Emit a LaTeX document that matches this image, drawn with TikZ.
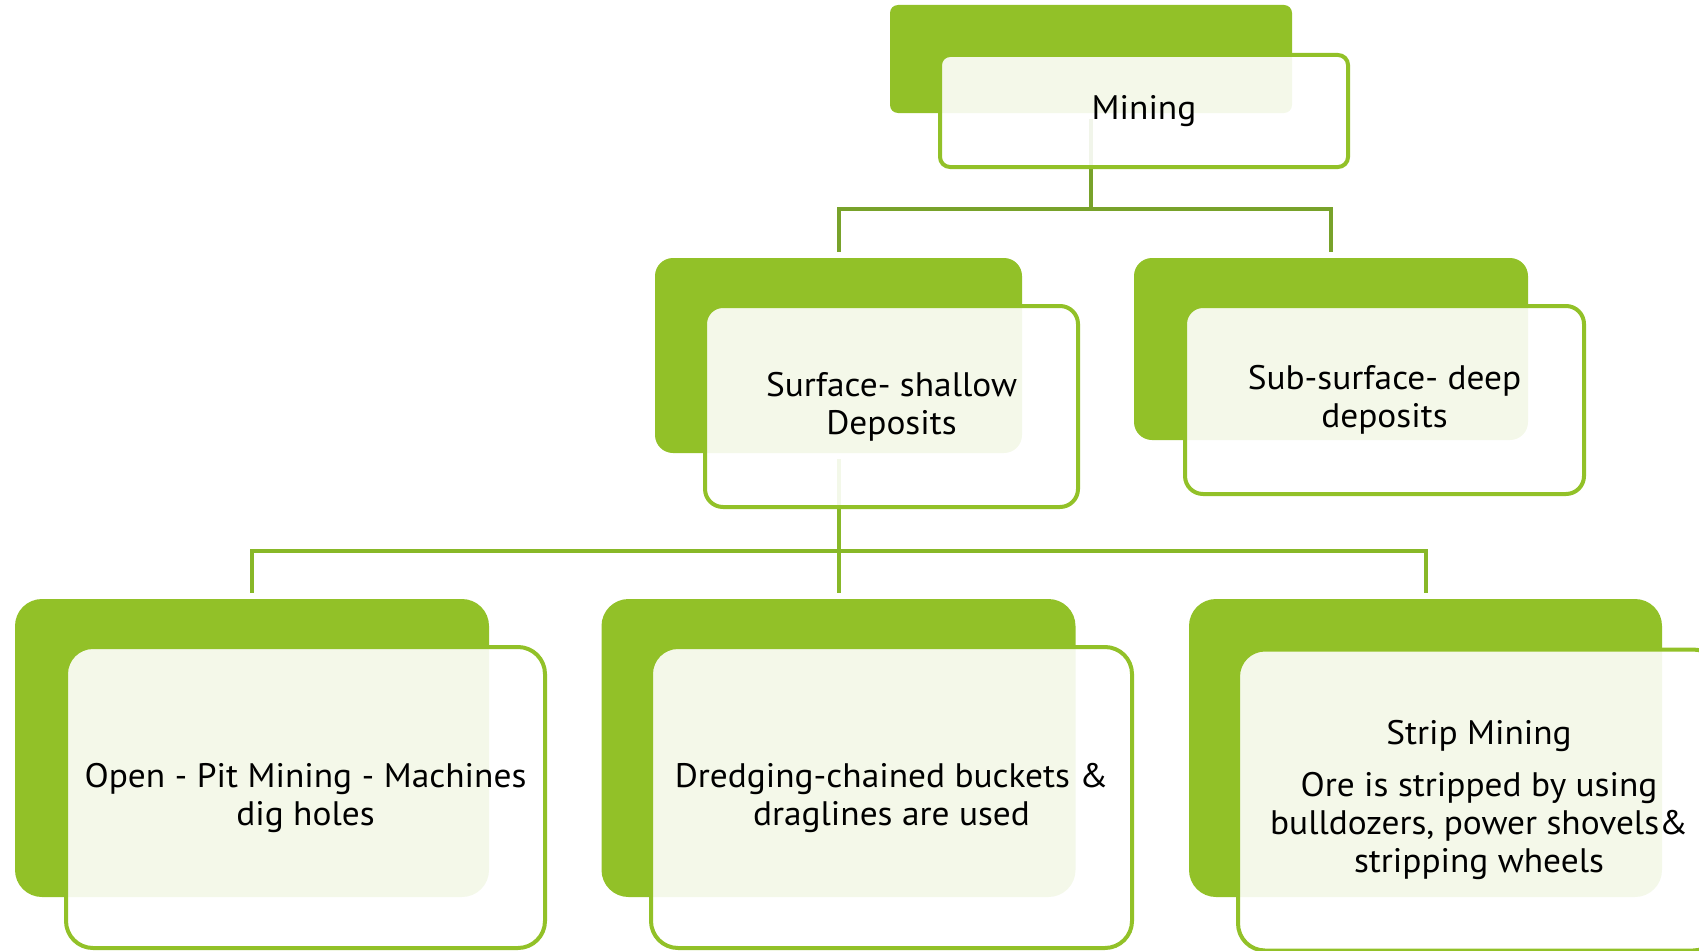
\documentclass[tikz,border=0pt]{standalone}
\usepackage{graphicx}
\usepackage{fontspec}
\setmainfont{PT Sans}[FakeStretch=1.04]
\definecolor{gfill}{RGB}{146,193,40}
\definecolor{gline}{RGB}{146,193,40}
\definecolor{conA}{RGB}{120,162,42}
\definecolor{conB}{RGB}{136,184,40}
\newcommand{\shortdash}{\scalebox{0.55}[1]{–}}
\pgfdeclarelayer{bg}
\pgfsetlayers{bg,main}
\tikzset{
  back/.style={rectangle, fill=gfill, inner sep=0pt, outer sep=0pt},
  front/.style={rectangle, draw=gline, line width=4pt, fill=white, fill opacity=0.9,
    text opacity=1, inner sep=0pt, outer sep=0pt, align=center,
    font=\fontsize{34}{38}\selectfont},
  conn/.style={line width=4pt, shorten >=6pt}
}
\begin{document}
\begin{tikzpicture}[x=1pt,y=-1pt]
\useasboundingbox (0,0) rectangle (1699,950);
\clip (0,0) rectangle (1699,950);
% level 0
\node[back, rounded corners=8pt, minimum width=402pt, minimum height=108pt] (gM) at (1091,59) {};
\node[front, rounded corners=10pt, minimum width=408pt, minimum height=112pt] (bM) at (1144,111) {Mining};
% level 1
\node[back, rounded corners=18pt, minimum width=367pt, minimum height=195pt] (gS) at (838.5,355.5) {};
\node[front, rounded corners=18pt, minimum width=373pt, minimum height=201pt] (bS) at (891.5,406.5) {Surface- shallow\\Deposits};
\node[back, rounded corners=18pt, minimum width=394pt, minimum height=182pt] (gU) at (1331,349) {};
\node[front, rounded corners=18pt, minimum width=399pt, minimum height=188pt] (bU) at (1384.5,400) {Sub-surface- deep\\deposits};
% level 2
\node[back, rounded corners=27pt, minimum width=474pt, minimum height=298pt] (gO) at (252,748) {};
\node[front, rounded corners=27pt, minimum width=479pt, minimum height=301pt] (bO) at (305.5,797.5) {Open \shortdash{} Pit Mining \shortdash{} Machines\\dig holes};
\node[back, rounded corners=27pt, minimum width=474pt, minimum height=298pt] (gD) at (838.5,748) {};
\node[front, rounded corners=27pt, minimum width=481pt, minimum height=301pt] (bD) at (891.5,797.5) {Dredging-chained buckets \&\\draglines are used};
\node[back, rounded corners=27pt, minimum width=473pt, minimum height=298pt] (gT) at (1425.5,748) {};
\node[front, rounded corners=27pt, minimum width=482pt, minimum height=301pt] (bT) at (1479,800) {Strip Mining\\[14pt]Ore is stripped by using\\bulldozers, power shovels\&\\stripping wheels};
% junctions
\coordinate (jA) at (1091,209);
\coordinate (jB) at (838.5,551);
\begin{pgfonlayer}{bg}
\draw[conn, conA, shorten <=6pt] (gM.south) -- (jA) -| (gS.north);
\draw[conn, conA] (jA) -| (gU.north);
\draw[conn, conB, shorten <=6pt] (gS.south) -- (jB) -| (gO.north);
\draw[conn, conB] (jB) -- (gD.north);
\draw[conn, conB] (jB) -| (gT.north);
\end{pgfonlayer}
\end{tikzpicture}
\end{document}
